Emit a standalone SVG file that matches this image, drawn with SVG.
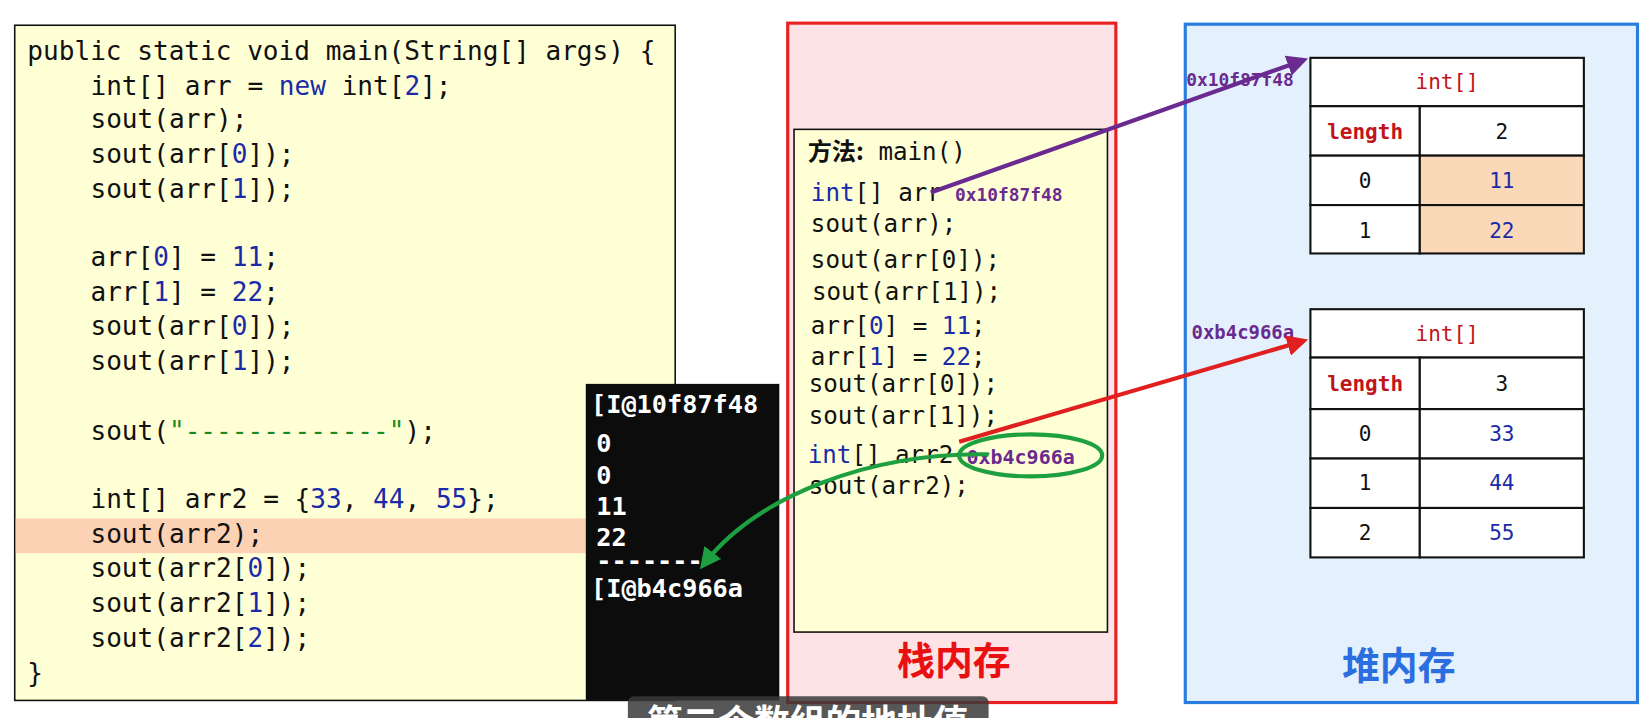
<svg xmlns="http://www.w3.org/2000/svg" width="1649" height="718" viewBox="0 0 1649 718">
<defs>
<style>
.c{font-family:"DejaVu Sans Mono","Liberation Mono",monospace;font-size:24.8px;fill:#111}
.s{font-family:"DejaVu Sans Mono","Liberation Mono",monospace;font-size:23px;fill:#111}
.n{fill:#1a2aa8}
.k{fill:#1a2aa8}
.t{font-family:"DejaVu Sans Mono","Liberation Mono",monospace;font-size:24px;font-weight:bold;fill:#fff}
.a{font-family:"DejaVu Sans Mono","Liberation Mono",monospace;font-weight:bold;fill:#6a2a90}
.cell{fill:#fff;stroke:#111;stroke-width:2}
.org{fill:#fbd9b8;stroke:#111;stroke-width:2}
.tv{font-family:"DejaVu Sans Mono","Liberation Mono",monospace;font-size:20px;text-anchor:middle;fill:#111}
.tr{font-family:"DejaVu Sans Mono","Liberation Mono",monospace;font-size:20px;text-anchor:middle;fill:#c0151b}
.tb{font-family:"DejaVu Sans Mono","Liberation Mono",monospace;font-size:20px;text-anchor:middle;fill:#1a2aa8}
.big{font-family:"Noto Sans CJK SC",sans-serif;font-size:36px;font-weight:bold;text-anchor:middle}
</style>
<marker id="ag" viewBox="0 0 10 10" refX="8" refY="5" markerWidth="5" markerHeight="5" orient="auto"><path d="M0,0L10,5L0,10z" fill="#1fa040"/></marker>
<marker id="ap" viewBox="0 0 10 10" refX="8" refY="5" markerWidth="5" markerHeight="5" orient="auto"><path d="M0,0L10,5L0,10z" fill="#6a2a90"/></marker>
<marker id="ar" viewBox="0 0 10 10" refX="8" refY="5" markerWidth="5" markerHeight="5" orient="auto"><path d="M0,0L10,5L0,10z" fill="#e02020"/></marker>
</defs>
<rect width="1649" height="718" fill="#fff"/>
<g transform="scale(1.0517)">
<g id="code">
<rect x="14" y="24" width="628" height="642" fill="#ffffd6" stroke="#111" stroke-width="1.5"/>
<rect x="15" y="493" width="542" height="33" fill="#fbd2b4"/>
<text class="c" x="26" y="57">public static void main(String[] args) {</text>
<text class="c" x="86" y="90">int[] arr = <tspan class="k">new</tspan> int[<tspan class="n">2</tspan>];</text>
<text class="c" x="86" y="122">sout(arr);</text>
<text class="c" x="86" y="155">sout(arr[<tspan class="n">0</tspan>]);</text>
<text class="c" x="86" y="188">sout(arr[<tspan class="n">1</tspan>]);</text>
<text class="c" x="86" y="253">arr[<tspan class="n">0</tspan>] = <tspan class="n">11</tspan>;</text>
<text class="c" x="86" y="286">arr[<tspan class="n">1</tspan>] = <tspan class="n">22</tspan>;</text>
<text class="c" x="86" y="319">sout(arr[<tspan class="n">0</tspan>]);</text>
<text class="c" x="86" y="352">sout(arr[<tspan class="n">1</tspan>]);</text>
<text class="c" x="86" y="418">sout(<tspan fill="#1a8a20">"-------------"</tspan>);</text>
<text class="c" x="86" y="483">int[] arr2 = {<tspan class="n">33</tspan>, <tspan class="n">44</tspan>, <tspan class="n">55</tspan>};</text>
<text class="c" x="86" y="516">sout(arr2);</text>
<text class="c" x="86" y="549">sout(arr2[<tspan class="n">0</tspan>]);</text>
<text class="c" x="86" y="582">sout(arr2[<tspan class="n">1</tspan>]);</text>
<text class="c" x="86" y="615">sout(arr2[<tspan class="n">2</tspan>]);</text>
<text class="c" x="26" y="648">}</text>
</g>
<g id="console">
<rect x="557" y="365" width="184" height="301" fill="#0c0c0c"/>
<text class="t" x="562" y="393">[I@10f87f48</text>
<text class="t" x="567" y="430">0</text>
<text class="t" x="567" y="460">0</text>
<text class="t" x="567" y="490">11</text>
<text class="t" x="567" y="519">22</text>
<text class="t" x="567" y="541">-------</text>
<text class="t" x="562" y="568">[I@b4c966a</text>
</g>
<g id="stack">
<rect x="749" y="22" width="312" height="646" fill="#fde3e6" stroke="#e82020" stroke-width="3"/>
<rect x="755" y="123" width="298" height="478" fill="#ffffd6" stroke="#111" stroke-width="1.5"/>
<text class="s" x="768" y="152" font-size="21"><tspan font-family="Noto Sans CJK SC,sans-serif" font-weight="bold">方法:</tspan> main()</text>
<text class="s" x="771" y="191"><tspan class="k">int</tspan>[] arr</text>
<text class="a" x="908" y="191" font-size="17">0x10f87f48</text>
<text class="s" x="771" y="221">sout(arr);</text>
<text class="s" x="771" y="255">sout(arr[0]);</text>
<text class="s" x="772" y="285">sout(arr[1]);</text>
<text class="s" x="771" y="318">arr[<tspan class="n">0</tspan>] = <tspan class="n">11</tspan>;</text>
<text class="s" x="771" y="347">arr[<tspan class="n">1</tspan>] = <tspan class="n">22</tspan>;</text>
<text class="s" x="769" y="373">sout(arr[0]);</text>
<text class="s" x="769" y="403">sout(arr[1]);</text>
<text class="s" x="768" y="440"><tspan class="k">int</tspan>[] arr2</text>
<ellipse cx="980" cy="433" rx="68" ry="20" fill="none" stroke="#1fa040" stroke-width="4"/>
<text class="a" x="919" y="441" font-size="19">0xb4c966a</text>
<text class="s" x="769" y="470">sout(arr2);</text>
<text class="big" x="907" y="641" fill="#e81010">栈内存</text>
</g>
<g id="heap">
<rect x="1127" y="23" width="430" height="645" fill="#e4f1fd" stroke="#2a7de0" stroke-width="3"/>
<text class="big" x="1330" y="646" fill="#2a6ee0">堆内存</text>
<text class="a" x="1128" y="82" font-size="17">0x10f87f48</text>
<text class="a" x="1133" y="322" font-size="18">0xb4c966a</text>
</g>
<g id="array1">
<rect class="cell" x="1246" y="55" width="260" height="46"/>
<text class="tr" x="1376" y="85">int[]</text>
<rect class="cell" x="1246" y="101" width="104" height="47"/><rect class="cell" x="1350" y="101" width="156" height="47"/>
<text class="tr" x="1298" y="132" font-weight="bold" font-size="18">length</text><text class="tv" x="1428" y="132">2</text>
<rect class="cell" x="1246" y="148" width="104" height="47"/><rect class="org" x="1350" y="148" width="156" height="47"/>
<text class="tv" x="1298" y="179">0</text><text class="tb" x="1428" y="179">11</text>
<rect class="cell" x="1246" y="195" width="104" height="46"/><rect class="org" x="1350" y="195" width="156" height="46"/>
<text class="tv" x="1298" y="226">1</text><text class="tb" x="1428" y="226">22</text>
</g>
<g id="array2">
<rect class="cell" x="1246" y="294" width="260" height="46"/>
<text class="tr" x="1376" y="324">int[]</text>
<rect class="cell" x="1246" y="340" width="104" height="49"/><rect class="cell" x="1350" y="340" width="156" height="49"/>
<text class="tr" x="1298" y="372" font-weight="bold" font-size="18">length</text><text class="tv" x="1428" y="372">3</text>
<rect class="cell" x="1246" y="389" width="104" height="47"/><rect class="cell" x="1350" y="389" width="156" height="47"/>
<text class="tv" x="1298" y="419">0</text><text class="tb" x="1428" y="419">33</text>
<rect class="cell" x="1246" y="436" width="104" height="47"/><rect class="cell" x="1350" y="436" width="156" height="47"/>
<text class="tv" x="1298" y="466">1</text><text class="tb" x="1428" y="466">44</text>
<rect class="cell" x="1246" y="483" width="104" height="47"/><rect class="cell" x="1350" y="483" width="156" height="47"/>
<text class="tv" x="1298" y="513">2</text><text class="tb" x="1428" y="513">55</text>
</g>
<g id="connectors" fill="none" stroke-width="4">
<line x1="885" y1="183" x2="1240" y2="57" stroke="#6a2a90" marker-end="url(#ap)"/>
<line x1="912" y1="420" x2="1240" y2="324" stroke="#e02020" marker-end="url(#ar)"/>
<path d="M940,432 C830,430 720,470 668,538" stroke="#1fa040" marker-end="url(#ag)"/>
</g>
<g id="caption">
<rect x="597" y="662" width="343" height="70" rx="6" fill="#3a3a3a" opacity="0.85"/>
<text x="768" y="699" font-family="Noto Sans CJK SC,sans-serif" font-size="34" font-weight="bold" fill="#fff" text-anchor="middle">第二个数组的地址值</text>
</g>
</g>
</svg>
